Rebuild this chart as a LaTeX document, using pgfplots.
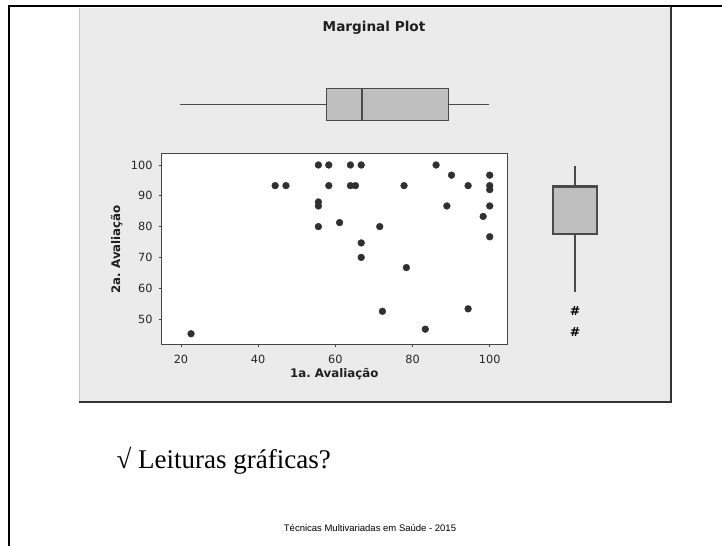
\documentclass[border=0pt]{standalone}
\usepackage{fontspec}
\setmainfont{DejaVu Sans}
\newfontfamily\slideserif{Liberation Serif}
\newfontfamily\slidesans{Liberation Sans}
\usepackage{pgfplots}
\pgfplotsset{compat=1.18}
\usepgfplotslibrary{statistics}
\frenchspacing

\definecolor{panel}{HTML}{EBEBEB}
\definecolor{boxfill}{HTML}{BFBFBF}
\definecolor{edge}{HTML}{4A4A4A}
\definecolor{dot}{HTML}{303030}
\definecolor{axisline}{HTML}{454545}
\definecolor{ticktext}{HTML}{262626}

% scores: 1a. avaliacao, 2a. avaliacao
\pgfplotstableread{
x y
22.6 45.2
44.4 93.3
47.2 93.3
55.6 100
58.3 100
55.6 88.0
55.6 86.7
55.6 80.0
58.3 93.3
61.1 81.3
63.9 100
63.9 93.3
65.2 93.3
66.7 100
66.7 74.7
66.7 70.0
71.5 80.0
72.2 52.5
77.8 93.3
78.4 66.7
83.3 46.7
86.1 100
88.9 86.7
90.1 96.7
94.4 93.3
94.4 53.3
98.3 83.3
100 96.7
100 93.3
100 92.0
100 86.7
100 76.7
}\scores

\pgfplotsset{
  margbox/.style={
    boxplot/draw position=0.5,
    boxplot/box extend=1,
    boxplot/whisker extend=0,
    boxplot/every median/.style={line width=1.8pt},
    draw=edge, fill=boxfill, line width=1.1pt,
  },
}

\begin{document}
\begin{tikzpicture}[x=1pt,y=1pt]
\path[use as bounding box] (0,0) rectangle (722,546);
% grey chart panel and slide frame
\fill[panel] (79,537.5) rectangle (671,144);
\draw[black!22, line width=0.8pt] (79.4,537.5) -- (79.4,144);
\draw[black!80, line width=2pt] (671,539) -- (671,143);
\draw[black!80, line width=2pt] (79,143.5) -- (672,143.5);
\draw[black, line width=2pt] (9,0) -- (9,540) -- (722,540);

\node[font=\bfseries\fontsize{13.6}{16}\selectfont, text=black!88] at (374,518.5) {Marginal Plot};

% scatter panel
\begin{axis}[
  at={(161pt,201.3pt)}, anchor=south west,
  scale only axis, width=346.7pt, height=190.7pt,
  xmin=14.82, xmax=104.66, ymin=41.66, ymax=103.57,
  axis background/.style={fill=white},
  axis line style={draw=axisline, line width=1pt},
  xtick={20,40,60,80,100}, ytick={50,60,70,80,90,100},
  tick align=outside, tick pos=left,
  major tick length=2.5pt,
  tick style={draw=axisline, line width=0.8pt},
  /pgf/number format/assume math mode=true,
  tick label style={font=\fontsize{11.3}{13}\selectfont, text=ticktext},
  xticklabel style={yshift=-4pt},
  yticklabel style={xshift=-2.5pt},
  xlabel={1a. Avaliação}, ylabel={2a. Avaliação},
  label style={font=\bfseries\fontsize{11.8}{14}\selectfont, text=black!88},
  xlabel style={at={(axis description cs:0.5,-0.1547)}, anchor=center},
  ylabel style={at={(axis description cs:-0.1278,0.5)}, anchor=center},
]
\addplot[only marks, mark=*, mark size=3.4pt, mark options={fill=dot, draw=dot}] table[x=x, y=y] {\scores};
\end{axis}

% marginal boxplot of the first evaluation
\begin{axis}[
  at={(161pt,425.3pt)}, anchor=south west,
  scale only axis, width=346.7pt, height=32.4pt,
  xmin=14.82, xmax=104.66, ymin=0, ymax=1,
  hide axis, clip=false,
]
\addplot[margbox, boxplot prepared={
  lower whisker=19.74, lower quartile=57.76, median=66.9,
  upper quartile=89.37, upper whisker=99.9}] coordinates {};
\end{axis}

% marginal boxplot of the second evaluation, outliers shown as hash marks
\begin{axis}[
  at={(553pt,201.3pt)}, anchor=south west,
  scale only axis, width=44pt, height=190.7pt,
  xmin=0, xmax=1, ymin=41.66, ymax=103.57,
  hide axis, clip=false,
  boxplot/draw direction=y,
]
\addplot[margbox, mark=text,
  text mark={\bfseries\fontsize{12.5}{12.5}\selectfont\#},
  mark options={text=edge, solid},
  boxplot prepared={
  lower whisker=58.8, lower quartile=77.6, median=92.9,
  upper quartile=93.3, upper whisker=99.8}]
  table[row sep=\\, y index=0] {v\\ 52.7\\ 45.7\\};
\end{axis}

\node[anchor=base west, font=\slideserif\fontsize{27}{32}\selectfont] at (113,78) {√ Leituras gráficas?};
\node[anchor=base, font=\slidesans\fontsize{9.5}{11}\selectfont] at (370,15) {Técnicas Multivariadas em Saúde - 2015};
\end{tikzpicture}
\end{document}
